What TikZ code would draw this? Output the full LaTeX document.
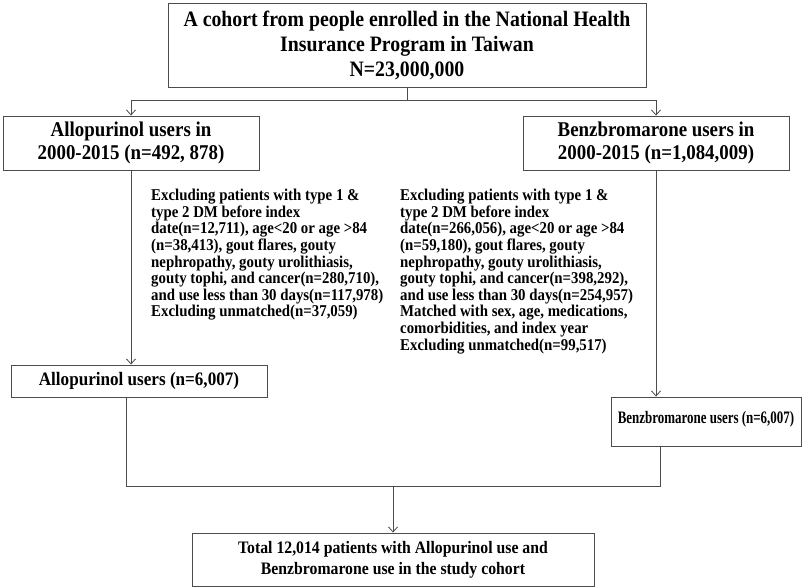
\documentclass[tikz,border=0pt]{standalone}
\usepackage{fontspec}
\setmainfont{Liberation Serif}[FakeStretch=0.9]
\newfontfamily\condfont{Liberation Serif}[FakeStretch=0.74]
\usetikzlibrary{arrows.meta,calc}
\begin{document}
\begin{tikzpicture}[x=1pt,y=-1pt,
  lineclr/.style={draw=black!70, line width=0.9pt},
  box/.style={lineclr, fill=white, inner sep=0pt, align=center, font=\bfseries},
  note/.style={inner sep=0pt, align=left, anchor=north west, font=\bfseries\fontsize{16.5}{16.6}\selectfont},
  conn/.style={lineclr},
  arr/.style={lineclr, -{Straight Barb[length=5pt,width=9pt,line width=0.8pt]}}]
\useasboundingbox (0,0) rectangle (803,588);
\fill[white] (0,0) rectangle (803,588);

\node[box, minimum width=478pt, minimum height=84pt, font=\bfseries\fontsize{22}{25}\selectfont] (top) at (407,45)
  {A cohort from people enrolled in the National Health\\Insurance Program in Taiwan\\N=23,000,000};

\node[box, minimum width=256pt, minimum height=54pt, font=\bfseries\fontsize{21}{23}\selectfont] (allo) at (131,143)
  {Allopurinol users in\\2000-2015 (n=492, 878)};
\node[box, minimum width=266pt, minimum height=54pt, font=\bfseries\fontsize{21}{23}\selectfont] (benz) at (656,143)
  {Benzbromarone users in\\2000-2015 (n=1,084,009)};

\node[note] (exA) at (151,189)
  {Excluding patients with type 1 \&\\
   type 2 DM before index\\
   date(n=12,711), age<20 or age >84\\
   (n=38,413), gout flares, gouty\\
   nephropathy, gouty urolithiasis,\\
   gouty tophi, and cancer(n=280,710),\\
   and use less than 30 days(n=117,978)\\
   Excluding unmatched(n=37,059)};
\node[note] (exB) at (400,189)
  {Excluding patients with type 1 \&\\
   type 2 DM before index\\
   date(n=266,056), age<20 or age >84\\
   (n=59,180), gout flares, gouty\\
   nephropathy, gouty urolithiasis,\\
   gouty tophi, and cancer(n=398,292),\\
   and use less than 30 days(n=254,957)\\
   Matched with sex, age, medications,\\
   comorbidities, and index year\\
   Excluding unmatched(n=99,517)};

\node[box, minimum width=256pt, minimum height=32pt, font=\bfseries\fontsize{19}{20}\selectfont] (allo2) at (139,381)
  {Allopurinol users (n=6,007)};
\node[box, minimum width=190pt, inner ysep=4pt, text height=22pt, text depth=19pt, font=\condfont\bfseries\fontsize{17.5}{20}\selectfont] (benz2) at (706,421.5)
  {Benzbromarone users (n=6,007)};

\node[box, minimum width=402pt, minimum height=53pt, font=\bfseries\fontsize{17.5}{21}\selectfont] (total) at (393,559.5)
  {Total 12,014 patients with Allopurinol use and\\Benzbromarone use in the study cohort};

\coordinate (j1) at (407,100);
\draw[conn] (top.south) -- (j1);
\draw[arr] (j1) -| (allo.north);
\draw[arr] (j1) -| (benz.north);
\draw[arr] (allo.south) -- (allo.south |- allo2.north);
\draw[arr] (benz.south) -- (benz.south |- benz2.north);

\coordinate (j2) at (393,486);
\draw[conn] ([xshift=-13pt]allo2.south) |- (j2);
\draw[conn] ([xshift=-46pt]benz2.south) |- (j2);
\draw[arr] (j2) -- (total.north);
\end{tikzpicture}
\end{document}
